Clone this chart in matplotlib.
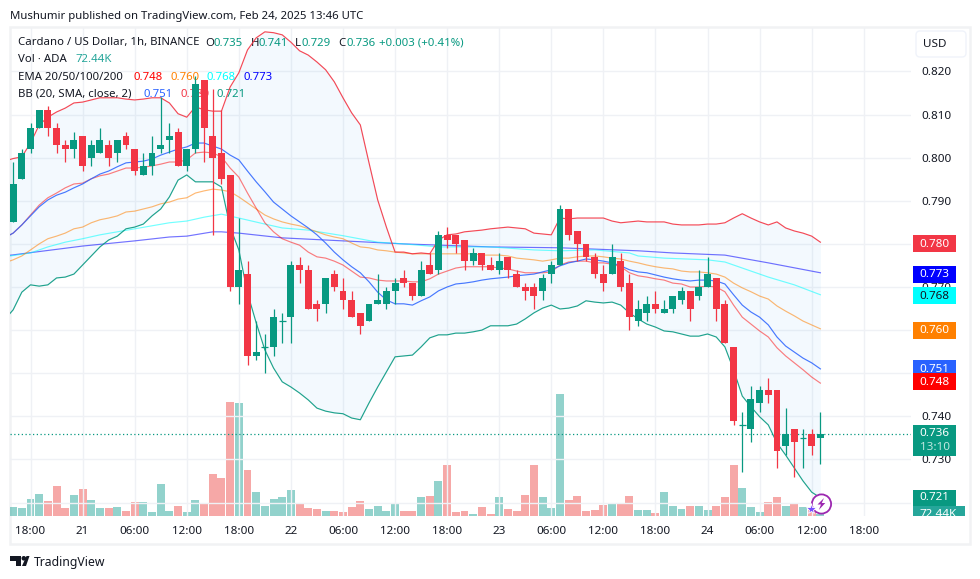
import numpy as np
import matplotlib
matplotlib.use("Agg")
import matplotlib.pyplot as plt
from matplotlib.patches import Rectangle, Circle, Polygon, FancyBboxPatch

plt.rcParams['font.family'] = ['Noto Sans', 'DejaVu Sans']

# ---- data: hourly candles, thousandths of a dollar; hour 0 = Feb 20 18:00 ----
first_hour = -2
open_milli = [785,795,802,807,811,807,803,802,805,800,
              801,803,801,805,802,796,798,802,804,806,
              798,802,818,805,801,796,770,773,754,756,
              756,762,763,775,774,766,766,773,769,767,
              764,762,766,766,769,772,771,768,775,774,
              782,782,781,776,778,775,774,777,773,770,
              770,769,773,775,788,783,780,777,773,773,
              776,771,762,764,766,764,765,767,769,768,
              770,772,766,756,738,737,743,746,746,733,
              737,735,736,735]
high_milli = [799,802,808,811,812,808,804,806,805,804,
              807,804,804,806,802,801,805,814,808,807,
              802,819,818,816,811,796,786,776,762,759,
              765,764,776,777,775,767,772,774,772,769,
              764,766,773,770,772,774,771,776,778,783,
              784,782,781,779,778,777,778,777,774,771,
              771,773,776,789,788,783,780,778,775,780,
              778,773,767,768,769,767,768,770,769,774,
              777,772,767,756,741,747,747,749,746,742,
              737,737,737,741]
low_milli = [785,795,801,807,805,801,799,800,797,798,
             801,798,799,802,796,796,796,801,801,798,
             797,801,799,782,794,769,766,752,753,750,
             754,757,757,771,765,762,764,769,765,763,
             759,762,766,765,766,770,767,768,773,773,
             779,778,774,775,774,774,773,772,770,767,
             765,767,771,775,781,776,776,772,769,773,
             769,760,761,762,764,764,764,766,762,767,
             770,762,757,738,727,734,741,743,728,731,
             726,728,731,729]
close_milli = [794,801,807,811,807,803,802,804,798,803,
               804,800,804,803,797,798,801,803,805,798,
               802,817,807,800,795,770,774,754,755,756,
               763,762,775,774,765,765,772,770,767,763,
               761,766,767,769,771,771,768,774,773,782,
               781,780,776,778,775,774,776,774,770,769,
               768,772,775,788,782,780,777,773,771,777,
               770,763,765,766,765,765,768,769,765,770,
               773,765,757,739,738,744,746,745,732,736,
               734,735,733,736]
volume_k = [261,232,493,638,435,870,232,609,783,464,
            232,232,261,145,406,406,116,928,145,290,
            116,464,377,1218,1102,3307,3278,1334,696,290,
            493,551,754,377,232,203,145,145,116,261,
            435,203,290,145,348,145,145,551,580,1015,
            1480,116,145,58,261,58,551,203,145,609,
            1480,551,232,3539,464,580,145,174,319,348,
            348,580,174,174,87,696,290,203,290,290,
            174,290,551,1480,812,261,116,406,551,290,
            377,261,174,72.44]

# indicators read per hour, starting one hour earlier (hour -3, off the left edge)
line_first_hour = -3
bb_upper = [799.2,799.8,800.2,803.4,807.6,809.4,810.6,811.5,812.7,812.9,813.4,813.9,813.9,813.9,813.6,
            813.4,813.6,813.9,813.9,812.7,810.2,809.4,811.8,811.1,810.8,810.8,816.4,819.7,825.0,827.8,
            829.2,829.0,828.5,826.8,824.8,823.8,822.2,820.4,817.6,813.9,810.4,807.6,798.8,790.2,783.9,
            778.1,778.1,777.7,777.9,777.7,780.9,782.1,782.3,782.8,783.0,783.2,783.5,783.7,783.9,783.7,
            783.5,782.5,782.3,782.1,786.0,785.8,786.0,786.0,786.0,786.0,785.3,784.9,785.1,785.3,785.1,
            785.1,785.1,784.6,784.4,784.4,784.4,784.6,784.6,784.9,786.0,787.0,786.0,785.1,784.4,785.1,
            783.7,783.0,782.5,781.8,780.4]
bb_lower = [762.4,764.7,768.8,770.5,770.2,770.5,772.1,772.3,773.0,775.1,777.2,779.3,780.9,781.8,783.5,
            783.9,784.6,786.5,788.1,790.9,794.8,796.0,794.4,794.4,794.4,793.2,783.9,778.6,768.6,761.7,
            755.4,751.2,748.0,746.8,745.4,743.8,741.9,741.2,740.8,740.6,739.6,739.2,743.1,746.8,750.3,
            753.8,754.0,754.2,756.1,758.2,758.9,758.9,759.3,759.3,759.6,760.0,761.0,761.0,761.0,761.4,
            762.6,764.0,765.1,765.8,764.9,765.1,765.6,766.8,766.5,766.3,766.5,765.8,764.0,762.6,761.4,
            760.7,759.8,759.6,759.1,758.6,758.6,759.1,758.4,756.1,750.8,744.7,742.2,739.9,738.0,733.8,
            731.0,728.0,725.0,722.4,721.1]
bb_basis = [781.4,782.5,784.4,786.5,788.6,790.2,791.3,792.0,793.0,793.9,795.1,796.2,796.9,797.9,798.8,
            799.0,799.2,799.7,800.6,801.3,802.0,802.5,803.4,803.4,802.7,802.0,800.6,799.5,796.9,794.4,
            792.1,789.7,788.1,786.5,785.1,783.7,782.1,780.2,778.1,776.3,774.7,773.3,771.2,768.8,767.0,
            766.1,766.1,765.8,766.8,767.7,769.1,770.0,770.7,770.9,771.2,771.6,771.9,772.1,772.3,772.6,
            772.8,773.0,773.5,774.0,774.9,775.6,776.0,776.5,776.3,776.0,775.6,774.9,774.0,773.5,773.3,
            772.8,772.3,771.9,771.6,771.4,771.6,771.6,771.4,770.7,768.2,765.8,764.2,763.0,761.2,758.4,
            756.3,754.9,753.5,752.4,751.0]
ema20 = [781.4,782.5,784.4,786.7,789.0,790.7,791.8,793.0,793.9,794.1,795.1,795.8,796.2,796.9,797.6,
         797.6,797.8,798.1,798.5,799.0,799.0,799.5,801.1,801.3,801.1,800.2,797.6,795.5,791.8,788.3,
         784.9,782.8,781.2,780.4,779.7,778.1,777.0,776.7,776.0,775.1,773.7,772.3,772.1,771.6,771.4,
         771.4,771.4,771.2,771.2,771.9,773.0,773.7,774.4,774.7,774.7,774.7,774.7,774.4,774.2,773.7,
         773.3,773.3,773.3,773.5,775.1,775.8,776.0,776.0,775.6,775.6,775.3,774.7,773.3,772.6,772.3,
         771.9,771.6,770.9,770.7,770.0,770.0,770.2,770.0,768.9,765.8,763.0,761.4,759.8,758.4,755.9,
         754.0,752.4,750.8,749.1,747.7]
ema50 = [775.6,776.3,777.2,778.6,780.0,781.2,781.8,782.5,783.5,783.9,784.9,785.6,786.0,786.5,787.4,
         787.6,788.1,788.6,789.3,789.7,790.4,790.7,791.8,792.3,792.7,792.5,792.1,790.9,789.5,788.1,
         786.7,785.8,785.1,784.6,784.2,783.5,782.8,782.1,781.6,781.2,780.2,779.3,779.1,778.6,778.4,
         778.1,777.9,777.7,777.7,777.7,777.7,777.7,777.7,777.7,777.7,777.4,777.4,777.4,777.2,776.7,
         776.5,776.3,776.0,776.3,776.7,776.7,777.0,777.2,777.2,777.0,776.7,776.5,776.0,775.6,775.1,
         774.7,774.4,774.2,773.7,773.5,773.5,773.3,773.0,772.3,770.9,769.8,768.9,767.9,767.2,765.6,
         764.4,763.3,762.1,761.2,760.3]
ema100_hours = [-3,0,2,4,6,8,10,12,14,16,18,20,22,24,27,29,32,36,40,43,47,53,58,61,65,69,70,73,78,80,82,85,88,91]
ema100 = [777.0,777.9,779.3,780.4,781.2,782.1,782.8,783.5,784.2,784.9,785.3,786.2,786.9,786.0,784.6,783.7,
          783.2,781.9,780.4,780.0,779.3,779.3,778.6,778.4,778.6,777.9,777.2,776.7,776.3,775.8,774.4,772.3,
          770.5,768.2]
ema200_hours = [-3,6,12,16,18,21,22,24,29,36,43,53,61,70,74,80,85,91]
ema200 = [777.2,779.5,780.7,781.6,781.8,782.8,782.8,782.5,781.4,780.7,780.0,779.3,779.1,778.4,777.9,777.4,775.6,773.3]

tick_hours = [0,6,12,18,24,30,36,42,48,54,60,66,72,78,84,90,96]
tick_names = ['18:00','21','06:00','12:00','18:00','22','06:00','12:00','18:00','23',
              '06:00','12:00','18:00','24','06:00','12:00','18:00']
price_ticks = [0.72,0.73,0.74,0.75,0.76,0.77,0.78,0.79,0.80,0.81,0.82]
price_names = ['','0.730','0.740','','','0.770','','0.790','0.800','0.810','0.820']
# last-value tags: value, background, text colour
tag_rows = [(0.780,'#F23645','white'),(0.773,'#0000FF','white'),(0.768,'#00FFFF','#131722'),
            (0.760,'#FF8000','white'),(0.751,'#2962FF','white'),(0.748,'#FF0000','white')]

# ---- colours ----
UP, DOWN = '#089981', '#F23645'
INK = '#131722'
GRID = '#EFF1F5'
W, H = 980, 579

fig = plt.figure(figsize=(W/100, H/100), dpi=100, facecolor='white')

# ---- pixel-space layer underneath for the frame ----
bg = fig.add_axes([0, 0, 1, 1], zorder=0)
bg.set_xlim(0, W); bg.set_ylim(H, 0); bg.axis('off')
bg.add_patch(Rectangle((9.5, 27), 960, 516.5, fc='white', ec='#F1F2F4', lw=1.8))

# ---- volume pane (shares the candle pane's x) ----
left, right, top, bottom = 10, 911, 28, 516
rect = [left/W, 1-bottom/H, (right-left)/W, (bottom-top)/H]
axv = fig.add_axes(rect, zorder=1)
ax = fig.add_axes(rect, zorder=2)
ax.patch.set_alpha(0); axv.patch.set_alpha(0)

# header and legend text: above the grid, below the chart's lines and candles
fs = 8.2
def T(x, y, s, c=INK, size=fs):
    ax.text(x, y, s, color=c, fontsize=size, va='baseline', ha='left',
            transform=bg.transData, clip_on=False, zorder=1.5)

T(10, 19, 'Mushumir published on TradingView.com, Feb 24, 2025 13:46 UTC', size=8.15)
T(18, 45.5, 'Cardano / US Dollar, 1h, BINANCE')
for x, name, off, val in [(205.5,'O',8,'0.735'),(250.5,'H',8,'0.741'),(295,'L',6,'0.729'),(338.5,'C',7.5,'0.736')]:
    T(x, 45.5, name)
    T(x + off, 45.5, val, UP)
T(379, 45.5, '+0.003 (+0.41%)', UP)
T(18, 62.5, 'Vol · ADA')
T(75, 62.5, '72.44K', '#26A69A')
T(18, 80, 'EMA 20/50/100/200')
for x, v, col in [(133,'0.748','#FF0000'),(170,'0.760','#FF8000'),(206.5,'0.768','#00FFFF'),(243,'0.773','#0000FF')]:
    T(x, 80, v, col)
T(18, 97, 'BB (20, SMA, close, 2)')
for x, v, col in [(143,'0.751','#2962FF'),(180,'0.780','#F23645'),(216.5,'0.721','#089981')]:
    T(x, 97, v, col)

# TradingView mark and word
bg.add_patch(Polygon([(10,556),(21,556),(21,566),(15.5,566),(15.5,561),(10,561)], fc=INK, ec='none'))
bg.add_patch(Circle((23.8,558.3), 2.3, fc=INK, ec='none'))
bg.add_patch(Polygon([(26,566),(22,566),(26.5,556),(29.5,556)], fc=INK, ec='none'))
bg.text(33.5, 565.7, 'TradingView', color=INK, fontsize=8.8, va='baseline', ha='left')

hours = np.arange(first_hour, first_hour + len(open_milli))
line_hours = np.arange(line_first_hour, line_first_hour + len(bb_upper))
o, h, l, c = [np.array(a)/1000 for a in (open_milli, high_milli, low_milli, close_milli)]
up = c >= o

xlim = (-2.362, 101.44)
ylim = (0.71687, 0.83009)
for a in (ax, axv):
    a.set_xlim(xlim)
    for s in a.spines.values():
        s.set_visible(False)
ax.set_ylim(ylim)
axv.set_ylim(0, 14152)
axv.set_yticks([]); axv.set_xticks([])

axv.bar(hours, volume_k, width=0.92, linewidth=0,
        color=['#26A69A' if u else '#EF5350' for u in up], alpha=0.5)

# grid, axes text
ax.set_xticks(tick_hours); ax.set_xticklabels(tick_names)
ax.set_yticks(price_ticks); ax.set_yticklabels(price_names)
ax.yaxis.tick_right()
ax.tick_params(axis='both', length=0, labelsize=8.4, colors=INK)
ax.tick_params(axis='x', pad=7)
ax.tick_params(axis='y', pad=7.2)
ax.set_axisbelow(True)
ax.grid(True, color=GRID, lw=1.0)
ax.get_xticklabels()[13].set_fontweight('bold')

# Bollinger band fill and lines
ax.fill_between(line_hours, np.array(bb_lower)/1000, np.array(bb_upper)/1000,
                color='#2196F3', alpha=0.05, lw=0, zorder=1)
LW = 0.85
ax.plot(ema200_hours, np.array(ema200)/1000, color='#0000FF', lw=LW, alpha=0.55, zorder=2)
ax.plot(ema100_hours, np.array(ema100)/1000, color='#00FFFF', lw=LW, alpha=0.55, zorder=2)
ax.plot(line_hours, np.array(ema50)/1000, color='#FF8000', lw=LW, alpha=0.55, zorder=2)
ax.plot(line_hours, np.array(ema20)/1000, color='#FF0000', lw=LW, alpha=0.5, zorder=2)
ax.plot(line_hours, np.array(bb_basis)/1000, color='#2962FF', lw=LW, alpha=0.85, zorder=2.1)
ax.plot(line_hours, np.array(bb_upper)/1000, color='#F23645', lw=LW, alpha=0.9, zorder=2.1)
ax.plot(line_hours, np.array(bb_lower)/1000, color='#089981', lw=LW, alpha=0.9, zorder=2.1)

# last-price dotted line
ax.axhline(c[-1], color=UP, lw=0.9, ls=(0, (1, 2)), zorder=2.2)

# candles
colors = np.where(up, UP, DOWN)
ax.vlines(hours, l, h, colors=colors, lw=0.9, zorder=3)
ax.bar(hours, np.abs(c-o), bottom=np.minimum(o, c), width=0.8, color=colors, linewidth=0, zorder=3.1)
flat = o == c
ax.hlines(c[flat], hours[flat]-0.4, hours[flat]+0.4, colors=colors[flat], lw=0.9, zorder=3.1)

trf = ax.get_yaxis_transform()

# ---- price-scale tags ----
bw = 43/(right-left); bx0 = 1 + 2/(right-left)
dh = 8.5/4310
for val, bgc, fg in tag_rows:
    ax.add_patch(Rectangle((bx0, val-dh), bw, 2*dh, transform=trf, fc=bgc, ec='none', clip_on=False, zorder=6))
    ax.text(bx0+bw/2, val-0.0001, f'{val:.3f}', transform=trf, color=fg, fontsize=8.4, ha='center', va='center', zorder=7, clip_on=False)

# ---- pixel-space layer on top ----
top_ax = fig.add_axes([0, 0, 1, 1], zorder=3)
top_ax.set_xlim(0, W); top_ax.set_ylim(H, 0); top_ax.axis('off'); top_ax.patch.set_alpha(0)

def box(x0, y0, x1, y1, col):
    top_ax.add_patch(Rectangle((x0, y0), x1-x0, y1-y0, fc=col, ec='none'))

def lab(x, y, s, col):
    return top_ax.text(x, y, s, color=col, fontsize=8.4, ha='center', va='center')

box(913, 425, 956, 456, UP)
lab(934.5, 433.3, '0.736', 'white')
lab(934.5, 447, '13:10', '#BFE6DF')
box(913, 489.5, 956, 506.5, UP)
lab(934.5, 498, '0.721', 'white')
box(913, 506, 965, 516, '#26A69A')
vt = lab(938, 514.5, '72.44K', 'white')
vt.set_clip_path(Rectangle((913, 506), 52, 10, transform=top_ax.transData))

# USD button
top_ax.add_patch(FancyBboxPatch((918, 33), 46, 22, boxstyle='round,pad=2,rounding_size=4',
                                fc='white', ec='#F0F3FA', lw=1.0))
top_ax.text(935, 44.5, 'USD', color=INK, fontsize=8.4, ha='center', va='center')

# badge
top_ax.add_patch(Circle((821.5, 504), 9.6, fc='white', ec='#9C27B0', lw=1.3))
top_ax.add_patch(Polygon([(824,498),(817.5,504.5),(821,504.5),(818.8,510),(825.3,503),(821.8,503)],
                         fc='#9C27B0', ec='none'))
top_ax.plot([811], [508.5], marker='*', ms=8, color='#7B4DFF', mec='white', mew=0.6)

fig.savefig('out.png', dpi=100, facecolor='white')
